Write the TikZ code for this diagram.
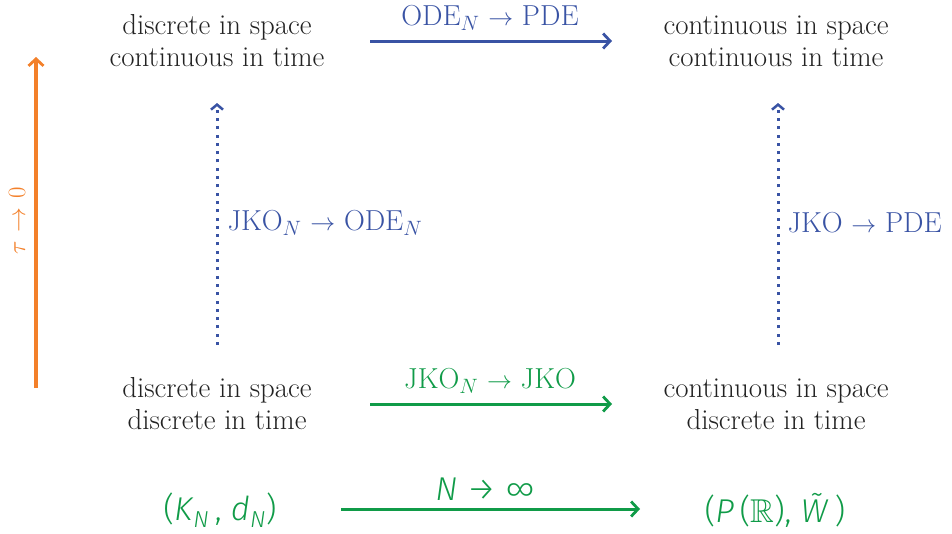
\documentclass[tikz,border=0pt]{standalone}
\usepackage{amssymb}
\usepackage{fontspec}
\newfontfamily\botfont{Fira Sans Light}
\usetikzlibrary{arrows.meta}
\definecolor{cblue}{RGB}{57,83,164}
\definecolor{cgreen}{RGB}{16,155,72}
\definecolor{corange}{RGB}{243,128,42}
\definecolor{ctext}{RGB}{34,34,34}
\begin{document}
\begin{tikzpicture}[x=1pt,y=-1pt,
  txt/.style={align=center,text=ctext,font=\fontsize{28.9}{32}\selectfont},
  lab/.style={font=\fontsize{28.9}{32}\selectfont},
  botf/.style={text=cgreen,font=\botfont\fontsize{33}{38}\selectfont},
  solidarr/.style={line width=3pt,-{Straight Barb[length=7pt,width=15pt,line width=2.8pt]}},
  dotarr/.style={line width=3pt,dash pattern=on 3pt off 5.3pt,-{Straight Barb[length=5pt,width=12pt,line width=2.5pt]}}]
\useasboundingbox (0,0) rectangle (952,533);
% main nodes
\node[txt] (tl) at (217,41) {discrete in space\\continuous in time};
\node[txt] (tr) at (776,41) {continuous in space\\continuous in time};
\node[txt] (bl) at (217,404) {discrete in space\\discrete in time};
\node[txt] (br) at (776,404) {continuous in space\\discrete in time};
\node[botf] (kn) at (220,510) {(\textit{K}\textsubscript{\textit{N}}\,, \textit{d}\textsubscript{\textit{N}})};
\node[botf] (pr) at (775,510) {(\textit{P}\,($\mathbb{R}$), \textit{W\char"0303}\,)};
% connectors
\draw[solidarr,cblue] (tl.center) -- (tr.center) [shorten <=153pt, shorten >=164pt];
\draw[solidarr,cgreen] (bl.center) -- (br.center) [shorten <=153pt, shorten >=164pt];
\draw[solidarr,cgreen] ([yshift=1pt]kn.center) -- ([yshift=1pt]pr.center) [shorten <=121pt, shorten >=135pt];
\draw[dotarr,cblue] (bl.center) -- (tl.center) [shorten <=59pt, shorten >=62pt];
\draw[dotarr,cblue] ([xshift=2pt]br.center) -- ([xshift=2pt]tr.center) [shorten <=59pt, shorten >=62pt];
\coordinate (tau0) at (36,388);
\coordinate (tau1) at (36,57);
\draw[solidarr,corange,line width=3.2pt] (tau0) -- (tau1);
% labels
\node[lab,text=cblue] (l1) at (490,18) {ODE$_N$ $\to$ PDE};
\node[lab,text=cgreen] (l2) at (490,381) {JKO$_N$ $\to$ JKO};
\node[lab,text=cblue,anchor=west] (l3) at (224,223) {JKO$_N$ $\to$ ODE$_N$};
\node[lab,text=cblue,anchor=west] (l4) at (784,223) {JKO $\to$ PDE};
\node[lab,text=corange,rotate=90] (l5) at (17,221) {$\tau$ $\to$ $0$};
\node[botf] (l6) at (485,489) {\textit{N} → ∞};
\end{tikzpicture}
\end{document}
